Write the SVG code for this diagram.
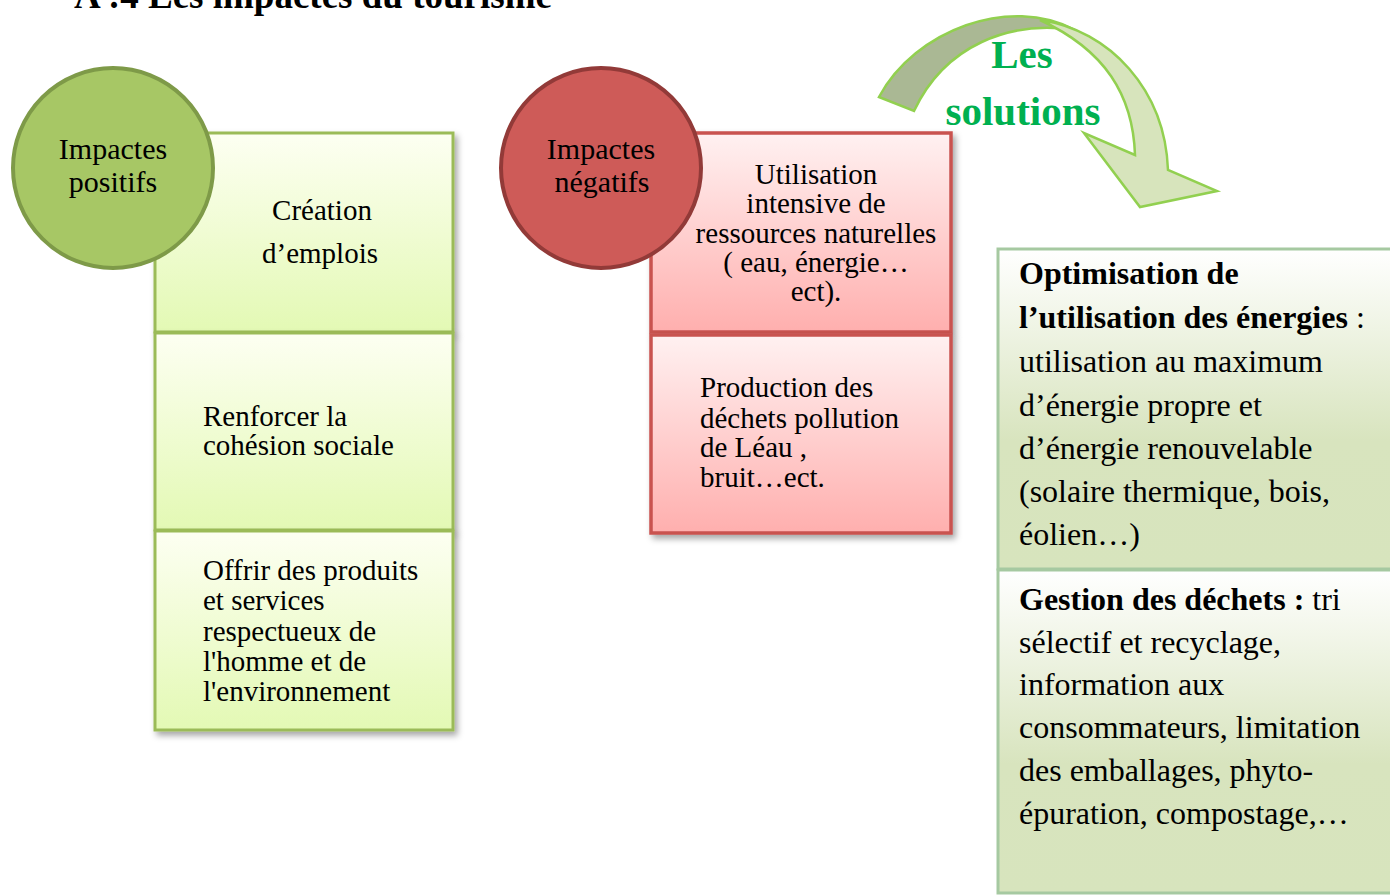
<svg xmlns="http://www.w3.org/2000/svg" width="1390" height="895" viewBox="0 0 1390 895">
  <defs>
    <linearGradient id="gGreen" x1="0" y1="0" x2="0" y2="1">
      <stop offset="0" stop-color="#fdfff2"/>
      <stop offset="1" stop-color="#e3f9b4"/>
    </linearGradient>
    <linearGradient id="gRed" x1="0" y1="0" x2="0" y2="1">
      <stop offset="0" stop-color="#fff1f1"/>
      <stop offset="1" stop-color="#ffafae"/>
    </linearGradient>
    <linearGradient id="gSol" x1="0" y1="0" x2="0" y2="1">
      <stop offset="0" stop-color="#ffffff"/>
      <stop offset="0.6" stop-color="#d8e4be"/>
      <stop offset="1" stop-color="#d7e4bd"/>
    </linearGradient>
    <filter id="shadow" x="-10%" y="-10%" width="130%" height="130%">
      <feDropShadow dx="3" dy="4" stdDeviation="3" flood-color="#000" flood-opacity="0.35"/>
    </filter>
    <style>
      text { font-family: "Liberation Serif", "Times New Roman", serif; fill: #000; }
      .title { font-size: 37px; font-weight: bold; }
      .circ { font-size: 30px; text-anchor: middle; }
      .box { font-size: 29px; }
      .mid { text-anchor: middle; }
      .sol { font-size: 32px; }
      .b { font-weight: bold; }
      .green { fill: url(#gGreen); stroke: #9bbb59; stroke-width: 3; filter: url(#shadow); }
      .red { fill: url(#gRed); stroke: #c9524f; stroke-width: 3.5; filter: url(#shadow); }
      .solbox { fill: url(#gSol); stroke: #a6c9a1; stroke-width: 3; }
      .arrow { stroke: #92d050; stroke-width: 2.5; stroke-linejoin: miter; }
      .lbl { font-size: 41px; font-weight: bold; fill: #00b050; text-anchor: middle; }
    </style>
  </defs>

  <rect width="1390" height="895" fill="#ffffff"/>

  <text class="title" x="74" y="8">A :4  Les impactes du tourisme</text>

  <g id="positive-boxes">
    <g id="pos1">
      <rect class="green" x="155" y="133" width="298" height="199"/>
      <text class="box mid" x="322" y="220">Création</text>
      <text class="box mid" x="320" y="263">d’emplois</text>
    </g>
    <g id="pos2">
      <rect class="green" x="155" y="333" width="298" height="197"/>
      <text class="box" x="203" y="426">Renforcer la</text>
      <text class="box" x="203" y="455">cohésion sociale</text>
    </g>
    <g id="pos3">
      <rect class="green" x="155" y="531" width="298" height="199"/>
      <text class="box" x="203" y="580">Offrir des produits</text>
      <text class="box" x="203" y="610">et services</text>
      <text class="box" x="203" y="641">respectueux de</text>
      <text class="box" x="203" y="671">l'homme et de</text>
      <text class="box" x="203" y="701">l'environnement</text>
    </g>
  </g>

  <g id="positive-circle">
    <circle cx="113" cy="168" r="100" fill="#a7c765" stroke="#7e9a48" stroke-width="4"/>
    <text class="circ" x="113" y="159">Impactes</text>
    <text class="circ" x="113" y="192">positifs</text>
  </g>

  <g id="negative-boxes">
    <g id="neg1">
      <rect class="red" x="651" y="133" width="300" height="199"/>
      <text class="box mid" x="816" y="184">Utilisation</text>
      <text class="box mid" x="816" y="213">intensive de</text>
      <text class="box mid" x="816" y="243">ressources naturelles</text>
      <text class="box mid" x="816" y="272">( eau, énergie…</text>
      <text class="box mid" x="816" y="301">ect).</text>
    </g>
    <g id="neg2">
      <rect class="red" x="651" y="335" width="300" height="198"/>
      <text class="box" x="700" y="397">Production des</text>
      <text class="box" x="700" y="428">déchets pollution</text>
      <text class="box" x="700" y="457">de Léau ,</text>
      <text class="box" x="700" y="487">bruit…ect.</text>
    </g>
  </g>

  <g id="negative-circle">
    <circle cx="601" cy="168" r="100" fill="#ce5b58" stroke="#923a38" stroke-width="4"/>
    <text class="circ" x="601" y="159">Impactes</text>
    <text class="circ" x="602" y="192">négatifs</text>
  </g>

  <g id="connectors">
    <path class="arrow" fill="#aab894" d="M879,97 C915,30 1010,-5 1075,30 C1010,20 945,45 914,111 Z"/>
    <path class="arrow" fill="#d7e4bc" d="M1040,20 C1110,30 1165,90 1168,170 L1217,191 L1140,207 L1084,133 L1135,155 C1133,95 1105,50 1040,20 Z"/>
  </g>

  <g id="solutions-label">
    <text class="lbl" x="1022" y="68">Les</text>
    <text class="lbl" x="1023" y="125">solutions</text>
  </g>

  <g id="solutions">
    <g id="sol1">
      <rect class="solbox" x="998" y="249" width="400" height="320"/>
      <text class="sol" x="1019" y="284"><tspan class="b">Optimisation de</tspan></text>
      <text class="sol" x="1019" y="328"><tspan class="b">l’utilisation des énergies</tspan> :</text>
      <text class="sol" x="1019" y="372">utilisation au maximum</text>
      <text class="sol" x="1019" y="416">d’énergie propre et</text>
      <text class="sol" x="1019" y="459">d’énergie renouvelable</text>
      <text class="sol" x="1019" y="502">(solaire thermique, bois,</text>
      <text class="sol" x="1019" y="545">éolien…)</text>
    </g>
    <g id="sol2">
      <rect class="solbox" x="998" y="570" width="400" height="323"/>
      <text class="sol" x="1019" y="610"><tspan class="b">Gestion des déchets :</tspan> tri</text>
      <text class="sol" x="1019" y="653">sélectif et recyclage,</text>
      <text class="sol" x="1019" y="695">information aux</text>
      <text class="sol" x="1019" y="738">consommateurs, limitation</text>
      <text class="sol" x="1019" y="781">des emballages, phyto-</text>
      <text class="sol" x="1019" y="824">épuration, compostage,…</text>
    </g>
  </g>
</svg>
